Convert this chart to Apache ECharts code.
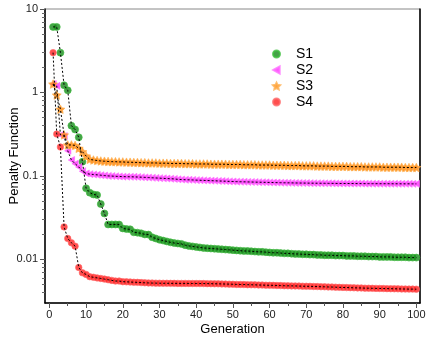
<!DOCTYPE html>
<html><head><meta charset="utf-8">
<script src="https://cdn.jsdelivr.net/npm/echarts@6/dist/echarts.min.js"></script>
<style>html,body{margin:0;padding:0;background:#fff}#c{width:440px;height:340px}</style>
</head><body><div id="c"></div>
<script>
const generations = Array.from({length: 100}, (_, i) => i + 1);
const xTickLabels = [0, 10, 20, 30, 40, 50, 60, 70, 80, 90, 100];
const xMinorTicks = [5, 15, 25, 35, 45, 55, 65, 75, 85, 95];
const yTickLabels = [0.01, 0.1, 1, 10];
const seriesNames = ['S1', 'S2', 'S3', 'S4'];

const S1 = [6.1,6.1,3.0,1.22,1.06,0.40,0.36,0.29,0.148,0.071,
0.063,0.060,0.059,0.046,0.0355,0.0262,0.0262,0.0262,0.0261,0.0235,
0.0231,0.0229,0.0211,0.0209,0.0205,0.0199,0.0198,0.0184,0.0178,0.0172,
0.0168,0.0164,0.0160,0.0157,0.0155,0.0153,0.0148,0.0145,0.0143,0.0141,
0.0139,0.0137,0.0136,0.0135,0.0134,0.0133,0.0132,0.0131,0.0130,0.0129,
0.0128,0.0127,0.0126,0.0126,0.0125,0.0124,0.0123,0.0123,0.0122,0.0121,
0.0120,0.0120,0.0119,0.0118,0.0118,0.0117,0.0116,0.0116,0.0115,0.0115,
0.0114,0.0114,0.0113,0.0113,0.0112,0.0112,0.0112,0.0111,0.0111,0.0111,
0.0110,0.0110,0.0110,0.0109,0.0109,0.0109,0.0108,0.0108,0.0108,0.0107,
0.0107,0.0107,0.0107,0.0106,0.0106,0.0106,0.0106,0.0105,0.0105,0.0105];

const S2 = [1.26,1.20,0.31,0.30,0.20,0.155,0.14,0.128,0.114,0.107,
0.105,0.104,0.103,0.102,0.101,0.100,0.0995,0.099,0.0985,0.098,
0.0978,0.0976,0.0974,0.097,0.0965,0.096,0.0955,0.095,0.0945,0.094,
0.0935,0.093,0.0925,0.092,0.091,0.0905,0.090,0.0898,0.0895,0.089,
0.0887,0.0884,0.088,0.0877,0.0874,0.087,0.0867,0.0864,0.086,0.0857,
0.0854,0.0851,0.0849,0.0847,0.0845,0.0843,0.0841,0.0839,0.0837,0.0835,
0.0833,0.0831,0.0829,0.0827,0.0826,0.0825,0.0823,0.0822,0.0821,0.0820,
0.0819,0.0818,0.0817,0.0816,0.0815,0.0814,0.0814,0.0813,0.0812,0.0812,
0.0811,0.0810,0.0810,0.0809,0.0809,0.0808,0.0808,0.0807,0.0807,0.0806,
0.0806,0.0806,0.0805,0.0805,0.0805,0.0804,0.0804,0.0804,0.0803,0.0803];

const S3 = [1.26,0.93,0.63,0.31,0.235,0.235,0.232,0.214,0.195,0.173,
0.158,0.155,0.153,0.151,0.150,0.149,0.148,0.148,0.147,0.147,
0.146,0.146,0.145,0.145,0.144,0.144,0.143,0.143,0.143,0.142,
0.142,0.142,0.141,0.141,0.141,0.141,0.140,0.140,0.140,0.139,
0.139,0.139,0.139,0.138,0.138,0.138,0.138,0.138,0.137,0.137,
0.137,0.137,0.136,0.136,0.136,0.136,0.135,0.135,0.135,0.135,
0.134,0.134,0.134,0.134,0.133,0.133,0.133,0.133,0.132,0.132,
0.132,0.132,0.131,0.131,0.131,0.131,0.130,0.130,0.130,0.130,
0.130,0.129,0.129,0.129,0.129,0.128,0.128,0.128,0.128,0.128,
0.127,0.127,0.127,0.127,0.127,0.127,0.126,0.126,0.126,0.126];

const S4 = [3.0,0.317,0.222,0.0245,0.0178,0.0158,0.0144,0.0080,0.0069,0.0066,
0.0062,0.0061,0.0060,0.0059,0.0058,0.0057,0.0056,0.0055,0.0055,0.0054,
0.00538,0.00535,0.00532,0.0053,0.00527,0.00524,0.00522,0.0052,0.00519,0.00518,
0.00517,0.00517,0.00516,0.00516,0.00515,0.00515,0.00515,0.00514,0.00514,0.00514,
0.00513,0.00513,0.00512,0.00511,0.0051,0.00509,0.00508,0.00506,0.00505,0.00503,
0.00501,0.0050,0.00499,0.00497,0.00496,0.00495,0.00493,0.00492,0.0049,0.00489,
0.00488,0.00486,0.00485,0.00483,0.00482,0.00481,0.0048,0.00479,0.00477,0.00476,
0.00475,0.00473,0.00472,0.0047,0.00469,0.00467,0.00466,0.00464,0.00462,0.00461,
0.00459,0.00458,0.00456,0.00455,0.00454,0.00452,0.00451,0.0045,0.00449,0.00448,
0.00447,0.00446,0.00445,0.00444,0.00443,0.00442,0.00441,0.0044,0.0044,0.00439];

const Y_MIN = 0.003, Y_MAX = 10;
const STAR = 'path://M0,-10L2.94,-4.05L9.51,-3.09L4.76,1.55L5.88,8.09L0,5L-5.88,8.09L-4.76,1.55L-9.51,-3.09L-2.94,-4.05Z';
const LEFT_TRI = 'path://M-5,0L5,-5.5L5,5.5Z';
const styles = [
  {symbol: 'circle', size: 7, color: '#17891a', border: '#3fbf3f'},
  {symbol: LEFT_TRI, size: 7, color: '#ff30ff', border: '#ff70ff'},
  {symbol: STAR, size: 9, color: '#ff8a10', border: '#ffb050'},
  {symbol: 'circle', size: 6.5, color: '#ff2222', border: '#ff6a6a'}
];
const allData = [S1, S2, S3, S4];

// decorative tick positions (log10 space)
const lmin = Math.log10(Y_MIN), lmax = Math.log10(Y_MAX);
const yMajorTicks = yTickLabels.map(v => Math.log10(v));
const yMinorTicks = [];
for (let e = -3; e <= 0; e++) for (let k = 2; k <= 9; k++) {
  const l = Math.log10(k * Math.pow(10, e));
  if (l > lmin + 1e-6 && l < lmax) yMinorTicks.push(l);
}

const FONT = 'Liberation Sans';
const series = [];
allData.forEach((arr, i) => {
  const st = styles[i];
  series.push({
    name: seriesNames[i], type: 'scatter', xAxisIndex: 0, yAxisIndex: 0,
    data: arr.map((v, j) => [generations[j], v]),
    symbol: st.symbol, symbolSize: st.size, symbolKeepAspect: true,
    itemStyle: {color: st.color, borderColor: st.border, borderWidth: 0.8},
    z: 2, silent: true
  });
});
allData.forEach((arr, i) => {
  series.push({
    name: seriesNames[i] + '_line', type: 'line', xAxisIndex: 0, yAxisIndex: 0,
    data: arr.map((v, j) => [generations[j], v]),
    showSymbol: false, symbol: 'none',
    lineStyle: {color: '#000', width: 1, type: [2, 2]},
    z: 3, silent: true
  });
});

const chart = echarts.init(document.getElementById('c'), null, {renderer: 'canvas'});
chart.setOption({
  animation: false,
  backgroundColor: '#fff',
  grid: {left: 45, right: 20, top: 9, bottom: 37, show: true, borderColor: '#888', borderWidth: 1,
         backgroundColor: 'transparent', containLabel: false, outerBoundsMode: 'none'},
  legend: {
    orient: 'vertical', left: 267, top: 41,
    data: seriesNames.map((n, i) => ({name: n, icon: styles[i].symbol})),
    itemWidth: 7, itemHeight: 7, itemGap: 0, symbolKeepAspect: true,
    textStyle: {fontFamily: FONT, fontSize: 14, color: '#000', lineHeight: 16, padding: [0, 0, 0, 11]},
    selectedMode: false
  },
  xAxis: [
    {
      type: 'value', min: -1.2, max: 101,
      name: 'Generation', nameLocation: 'middle', nameGap: 20, nameMoveOverlap: false,
      nameTextStyle: {fontFamily: FONT, fontSize: 13, color: '#000'},
      axisLine: {show: true, onZero: false, lineStyle: {color: '#000', width: 1.5}},
      axisTick: {show: true, length: 5, customValues: xTickLabels, lineStyle: {color: '#555', width: 1}},
      axisLabel: {customValues: xTickLabels, margin: 6, fontFamily: FONT, fontSize: 11, color: '#222'},
      splitLine: {show: false}
    },
    {
      type: 'value', min: -1.2, max: 101, position: 'bottom', offset: 0,
      axisLine: {show: false, onZero: false},
      axisTick: {show: true, length: 3, customValues: xMinorTicks, lineStyle: {color: '#555', width: 1}},
      axisLabel: {show: false}, splitLine: {show: false}
    }
  ],
  yAxis: [
    {
      type: 'log', logBase: 10, min: Y_MIN, max: Y_MAX,
      name: 'Penalty Function', nameLocation: 'middle', nameGap: 24, nameMoveOverlap: false,
      nameTextStyle: {fontFamily: FONT, fontSize: 13, color: '#000'},
      axisLine: {show: true, onZero: false, lineStyle: {color: '#000', width: 1.5}},
      axisTick: {show: false},
      axisLabel: {
        showMinLabel: false, margin: 7, fontFamily: FONT, fontSize: 11, color: '#222',
        formatter: v => {
          const m = yTickLabels.find(t => Math.abs(t - v) / t < 1e-6);
          return m === undefined ? '' : String(m);
        }
      },
      splitLine: {show: false}, minorSplitLine: {show: false}
    },
    {
      type: 'value', min: lmin, max: lmax, position: 'left', offset: 0,
      axisLine: {show: false, onZero: false},
      axisTick: {show: true, length: 5, customValues: yMajorTicks, lineStyle: {color: '#555', width: 1}},
      axisLabel: {show: false}, splitLine: {show: false}
    },
    {
      type: 'value', min: lmin, max: lmax, position: 'left', offset: 0,
      axisLine: {show: false, onZero: false},
      axisTick: {show: true, length: 3, customValues: yMinorTicks, lineStyle: {color: '#666', width: 1}},
      axisLabel: {show: false}, splitLine: {show: false}
    },
    {
      type: 'value', min: 0, max: 1, position: 'right', offset: 0,
      axisLine: {show: true, onZero: false, lineStyle: {color: '#000', width: 1.5}},
      axisTick: {show: false}, axisLabel: {show: false}, splitLine: {show: false}
    }
  ],
  series: series
});
</script></body></html>
